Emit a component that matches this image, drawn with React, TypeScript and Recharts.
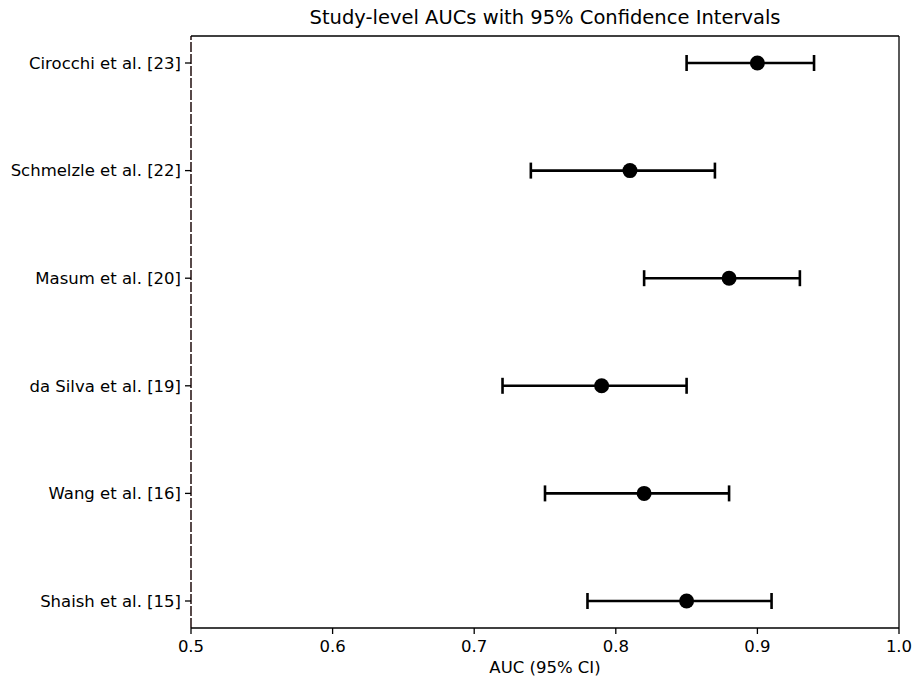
import React from 'react';
import { ScatterChart, Scatter, XAxis, YAxis, ErrorBar, ReferenceLine } from 'recharts';

const studies = [
  'Cirocchi et al. [23]',
  'Schmelzle et al. [22]',
  'Masum et al. [20]',
  'da Silva et al. [19]',
  'Wang et al. [16]',
  'Shaish et al. [15]',
];
const aucValues = [0.9, 0.81, 0.88, 0.79, 0.82, 0.85];
const ciLower = [0.85, 0.74, 0.82, 0.72, 0.75, 0.78];
const ciUpper = [0.94, 0.87, 0.93, 0.85, 0.88, 0.91];
const xTicks = [0.5, 0.6, 0.7, 0.8, 0.9, 1.0];

const data = studies.map((name, i) => ({
  name,
  auc: aucValues[i],
  err: [aucValues[i] - ciLower[i], ciUpper[i] - aucValues[i]],
}));

const FONT = '"DejaVu Sans", sans-serif';
const W = 920;
const H = 679;
const PLOT_LEFT = 191;
const PLOT_RIGHT = 899;

const Dot = (props: any) => {
  const { cx, cy } = props;
  return <circle cx={cx} cy={cy} r={7.5} fill="#000" />;
};

export default function App() {
  return (
    <div style={{ position: 'relative', width: W, height: H, background: '#fff', fontFamily: FONT }}>
      <style>{`body{margin:0;}`}</style>
      <div
        style={{
          position: 'absolute',
          left: PLOT_LEFT,
          width: PLOT_RIGHT - PLOT_LEFT,
          top: 7,
          textAlign: 'center',
          fontSize: 19.5,
          color: '#000',
          fontFamily: FONT,
          lineHeight: '22px',
          whiteSpace: 'nowrap',
        }}
      >
        Study-level AUCs with 95% Confidence Intervals
      </div>
      <ScatterChart width={W} height={H} margin={{ top: 35, right: 0, bottom: 0, left: 0 }}>
        <XAxis
          xAxisId="main"
          type="number"
          dataKey="auc"
          domain={[0.5, 1.0]}
          ticks={xTicks}
          allowDataOverflow
          height={51}
          tickSize={6}
          tickMargin={6}
          tickFormatter={(v: number) => v.toFixed(1)}
          tick={{ fill: '#000', fontSize: 16.5, fontFamily: FONT }}
          stroke="#000"
          axisLine={{ stroke: '#000', strokeWidth: 1.3 }}
          tickLine={{ stroke: '#000', strokeWidth: 1.3 }}
          label={{ value: 'AUC (95% CI)', position: 'insideBottom', offset: 6, fill: '#000', fontSize: 16.5, fontFamily: FONT }}
        />
        <XAxis
          xAxisId="top"
          orientation="top"
          type="number"
          domain={[0.5, 1.0]}
          ticks={xTicks}
          height={1}
          tick={false}
          tickLine={false}
          axisLine={{ stroke: '#000', strokeWidth: 1.3 }}
        />
        <YAxis
          yAxisId="main"
          type="category"
          dataKey="name"
          scale="point"
          reversed
          padding={{ top: 27, bottom: 27 }}
          width={PLOT_LEFT}
          tickSize={6}
          tickMargin={4}
          tick={{ fill: '#000', fontSize: 16.5, fontFamily: FONT }}
          axisLine={false}
          tickLine={{ stroke: '#000', strokeWidth: 1.3 }}
          allowDuplicatedCategory={false}
        />
        <YAxis
          yAxisId="right"
          orientation="right"
          type="number"
          domain={[0, 1]}
          width={W - PLOT_RIGHT}
          tick={false}
          tickLine={false}
          axisLine={{ stroke: '#000', strokeWidth: 1.3 }}
        />
        <ReferenceLine
          xAxisId="main"
          yAxisId="main"
          x={0.5}
          stroke="#2e1c1c"
          strokeWidth={1.6}
          strokeDasharray="10 2"
          ifOverflow="visible"
        />
        <Scatter
          xAxisId="main"
          yAxisId="main"
          data={data}
          shape={Dot}
          isAnimationActive={false}
        >
          <ErrorBar dataKey="err" direction="x" width={8} stroke="#000" strokeWidth={2.6} />
        </Scatter>
      </ScatterChart>
    </div>
  );
}
